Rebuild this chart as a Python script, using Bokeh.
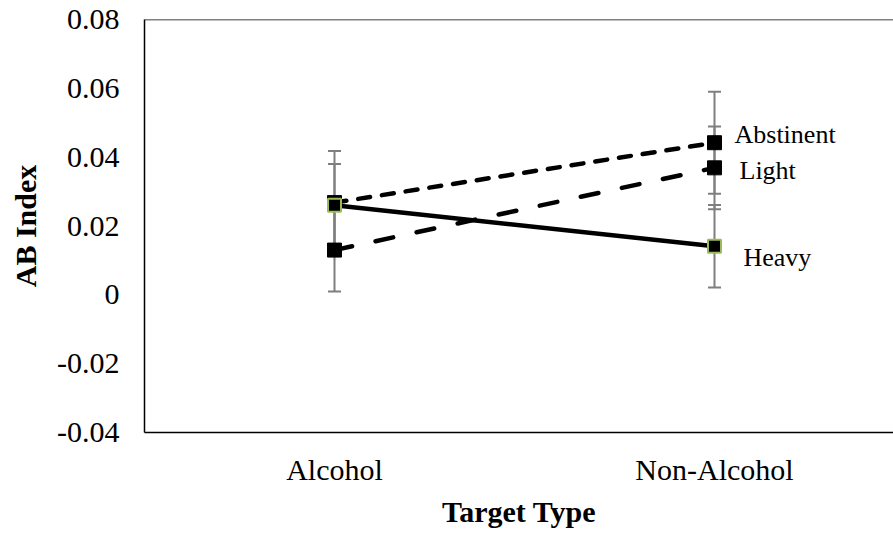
from bokeh.plotting import figure
from bokeh.models import (ColumnDataSource, Whisker, TeeHead, FixedTicker,
                          Span, Range1d)
from bokeh.core.properties import value
from bokeh.embed import file_html
from bokeh.resources import INLINE

# --- data -------------------------------------------------------------
categories = ["Alcohol", "Non-Alcohol"]
series_names = ["Abstinent", "Light", "Heavy"]
abstinent = [0.0268, 0.0442]
light = [0.0130, 0.0369]
heavy = [0.0260, 0.0141]
abstinent_err = [0.0150, 0.0148]
light_err = [0.0120, 0.0120]
heavy_err = [0.0120, 0.0120]
y_ticks = [-0.04, -0.02, 0.0, 0.02, 0.04, 0.06, 0.08]
y_tick_labels = ["-0.04", "-0.02", "0", "0.02", "0.04", "0.06", "0.08"]

FONT = "Liberation Serif"
AXIS_FONT = "'Liberation Serif', 'Times New Roman', serif"
xs = [i + 0.5 for i in range(len(categories))]

W, H = 893, 536
LEFT, TOP, BOTTOM = 144, 19, 104
CAT_PX = 380  # pixel width of one category slot

p = figure(width=W, height=H, output_backend="svg", toolbar_location=None,
           x_range=Range1d(0, (W - LEFT) / CAT_PX),
           y_range=Range1d(y_ticks[0], y_ticks[-1]),
           min_border_left=LEFT, min_border_right=0,
           min_border_top=TOP, min_border_bottom=BOTTOM)
p.outline_line_color = None
p.background_fill_color = "white"
p.border_fill_color = "white"
p.xgrid.visible = False
p.ygrid.visible = False

# axes
for ax in (p.xaxis[0], p.yaxis[0]):
    ax.axis_line_color = "black"
    ax.axis_line_width = 1.5
    ax.major_tick_line_color = None
    ax.minor_tick_line_color = None
    ax.major_label_text_font = AXIS_FONT
    ax.major_label_text_font_size = "30px"
    ax.major_label_text_color = "black"
    ax.axis_label_text_font = AXIS_FONT
    ax.axis_label_text_font_size = "30px"
    ax.axis_label_text_font_style = "bold"
    ax.axis_label_text_color = "black"

p.yaxis.ticker = FixedTicker(ticks=y_ticks)
p.yaxis.major_label_overrides = dict(zip(y_ticks, y_tick_labels))
p.yaxis.axis_label = "AB Index"
p.yaxis.major_label_standoff = 19
p.yaxis.axis_label_standoff = 12

p.xaxis.ticker = FixedTicker(ticks=xs)
p.xaxis.major_label_overrides = dict(zip(xs, categories))
p.xaxis.axis_label = "Target Type"
p.xaxis.major_label_standoff = 14
p.xaxis.axis_label_standoff = 6

# top edge of the plot box
p.add_layout(Span(location=y_ticks[-1], dimension="width",
                  line_color="black", line_width=1.5))

# error bars
GREY = "#7f7f7f"
for vals, errs in ((abstinent, abstinent_err), (light, light_err), (heavy, heavy_err)):
    src = ColumnDataSource(dict(
        x=xs,
        upper=[v + e for v, e in zip(vals, errs)],
        lower=[v - e for v, e in zip(vals, errs)]))
    p.add_layout(Whisker(source=src, base="x", upper="upper", lower="lower",
                         line_color=GREY, line_width=2,
                         upper_head=TeeHead(size=13, line_color=GREY, line_width=2),
                         lower_head=TeeHead(size=13, line_color=GREY, line_width=2)))

# series lines and markers
p.line(xs, abstinent, line_color="black", line_width=4.5,
       line_dash="12 12", line_cap="round")
p.line(xs, light, line_color="black", line_width=4.5,
       line_dash="18 24", line_cap="round")
p.line(xs, heavy, line_color="black", line_width=4.5)

p.scatter(xs, abstinent, marker="square", size=14, fill_color="black",
          line_color="black")
p.scatter(xs, light, marker="square", size=14, fill_color="black",
          line_color="black")
p.scatter(xs, heavy, marker="square", size=13, fill_color="black",
          line_color="#9bbb59", line_width=2)

# series labels beside the last point
label_src = ColumnDataSource(dict(
    x=[xs[-1]] * 3,
    y=[abstinent[-1], light[-1], heavy[-1]],
    text=series_names,
    dx=[20, 25, 29],
    dy=[-8, 3, 11]))
p.text(x="x", y="y", text="text", source=label_src, x_offset="dx",
       y_offset="dy", text_font=value(FONT), text_font_size="26px",
       text_color="black", text_baseline="middle", text_align="left")

open("out.html", "w").write(file_html(p, INLINE))
